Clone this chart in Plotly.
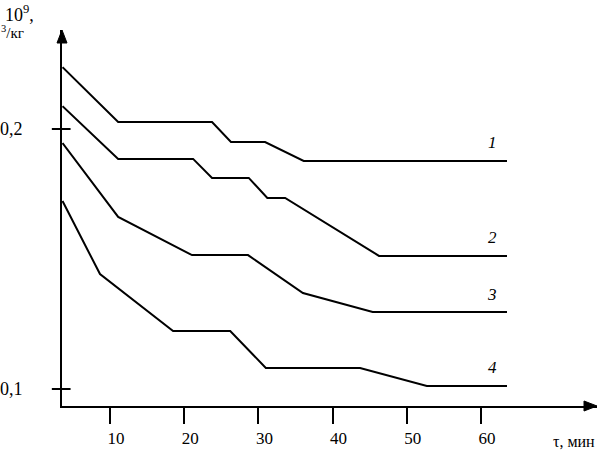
import plotly.graph_objects as go

# ─── Data ────────────────────────────────────────────────────────────

t1 = [3.6, 11.1, 23.75, 26.3, 30.9, 36.1, 63.5]
v1 = [0.2238, 0.2027, 0.2027, 0.1950, 0.1950, 0.1877, 0.1877]

t2 = [3.6, 11.1, 21.2, 23.75, 28.7, 31.2, 33.6, 46.25, 63.5]
v2 = [0.2088, 0.1885, 0.1885, 0.1812, 0.1812, 0.1735, 0.1735, 0.1512, 0.1512]

t3 = [3.6, 11.1, 21.05, 28.6, 36.0, 45.4, 63.5]
v3 = [0.1946, 0.1662, 0.1515, 0.1515, 0.1369, 0.1296, 0.1296]

t4 = [3.6, 8.65, 18.5, 26.2, 31.0, 43.7, 52.7, 63.5]
v4 = [0.1723, 0.1442, 0.1223, 0.1223, 0.1081, 0.1081, 0.1012, 0.1012]

curve_labels = ["1", "2", "3", "4"]

x_ticks = [10, 20, 30, 40, 50, 60]
y_ticks = [0.1, 0.2]
y_tick_text = ["0,1", "0,2"]

SERIF = "Liberation Serif, Times New Roman, serif"

# plot area in pixels (used to size the arrowheads)
PLOT_W, PLOT_H = 535, 376

fig = go.Figure()

curves = [(t1, v1), (t2, v2), (t3, v3), (t4, v4)]
for (t, v), lab in zip(curves, curve_labels):
    fig.add_trace(
        go.Scatter(
            x=t,
            y=v,
            mode="lines",
            line=dict(color="black", width=2),
            showlegend=False,
            hoverinfo="skip",
        )
    )
    # curve number, italic, just above the end of each curve
    fig.add_annotation(
        x=61.5,
        y=v[-1],
        text=f"<i>{lab}</i>",
        showarrow=False,
        yshift=18,
        font=dict(family=SERIF, size=17, color="black"),
    )

# y ticks crossing the axis
for yv in y_ticks:
    fig.add_shape(
        type="line",
        xref="paper",
        yref="y",
        x0=-0.019,
        x1=0.016,
        y0=yv,
        y1=yv,
        line=dict(color="black", width=2),
    )

# arrowheads at the ends of both axes
hx, hy = 5 / PLOT_W, 13 / PLOT_H
fig.add_shape(
    type="path", xref="paper", yref="paper",
    path=f"M 0 1 L {-hx} {1 - hy} L {hx} {1 - hy} Z",
    fillcolor="black", line=dict(color="black", width=1),
)
vx, vy = 13 / PLOT_W, 5 / PLOT_H
fig.add_shape(
    type="path", xref="paper", yref="paper",
    path=f"M 1 0 L {1 - vx} {vy} L {1 - vx} {-vy} Z",
    fillcolor="black", line=dict(color="black", width=1),
)

# axis titles (cropped in the original)
fig.add_annotation(
    x=-0.110, y=1.045, xref="paper", yref="paper",
    xanchor="left", yanchor="middle", showarrow=False,
    text="10<sup>9</sup>,",
    font=dict(family=SERIF, size=18, color="black"),
)
fig.add_annotation(
    x=-0.118, y=0.995, xref="paper", yref="paper",
    xanchor="left", yanchor="middle", showarrow=False,
    text="<sup>3</sup>/кг",
    font=dict(family=SERIF, size=15, color="black"),
)
fig.add_annotation(
    x=1.0, y=-0.095, xref="paper", yref="paper",
    xanchor="right", yanchor="middle", showarrow=False,
    text="τ, мин",
    font=dict(family=SERIF, size=16, color="black"),
)

fig.update_layout(
    width=599,
    height=452,
    margin=dict(l=62, r=2, t=30, b=46),
    paper_bgcolor="white",
    plot_bgcolor="white",
    font=dict(family=SERIF, size=18, color="black"),
    xaxis=dict(
        range=[3.53, 75.63],
        automargin=False,
        showgrid=False,
        zeroline=False,
        showline=True,
        linecolor="black",
        linewidth=2,
        tickvals=x_ticks,
        ticks="outside",
        ticklen=16,
        tickwidth=1.5,
        tickcolor="black",
        ticklabelstandoff=0,
        ticklabelshift=6,
        tickfont=dict(family=SERIF, size=17, color="black"),
    ),
    yaxis=dict(
        range=[0.09346, 0.23808],
        automargin=False,
        showgrid=False,
        zeroline=False,
        showline=True,
        linecolor="black",
        linewidth=2,
        tickvals=y_ticks,
        ticktext=y_tick_text,
        ticks="",
        ticklabelstandoff=34,
        tickfont=dict(family=SERIF, size=18, color="black"),
    ),
)

# the page's default body margin would push the figure 8px off the window
fig.write_html(
    "out.html",
    config={"displayModeBar": False},
    post_script="document.body.style.margin='0';",
)
